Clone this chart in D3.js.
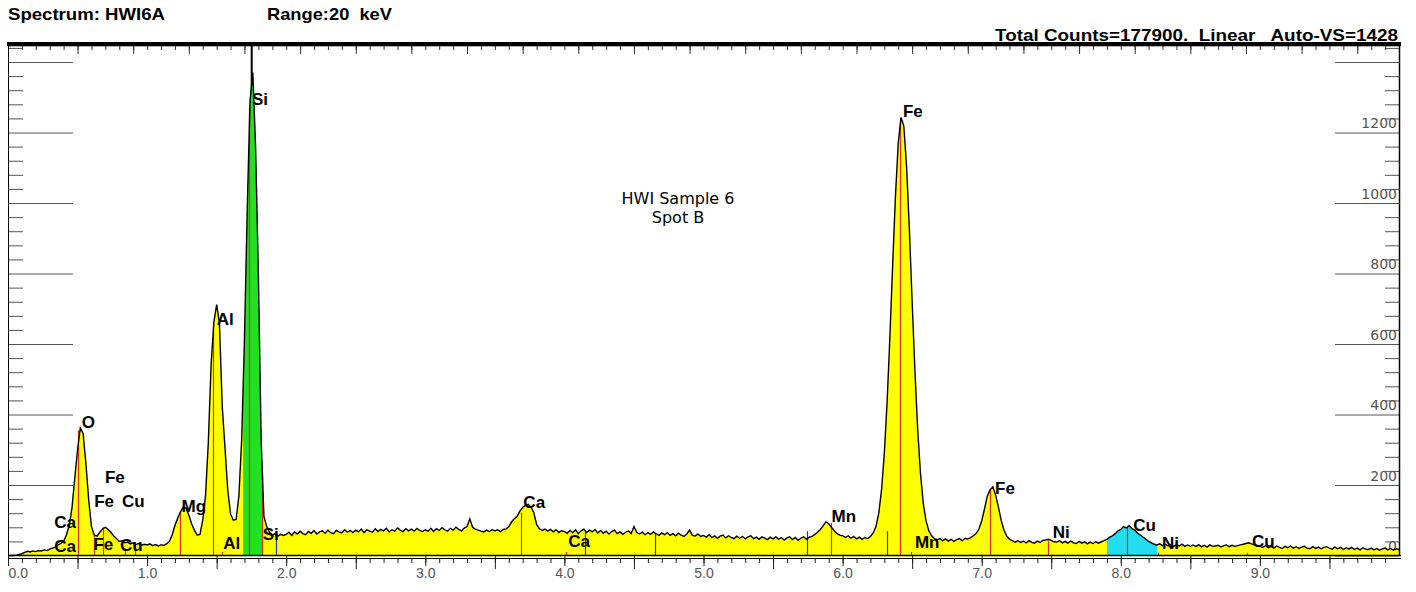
<!DOCTYPE html>
<html>
<head>
<meta charset="utf-8">
<script src="https://cdn.jsdelivr.net/npm/d3@7"></script>
<style>
body { margin: 0; background: #fff; }
svg { display: block; font-family: "Liberation Sans", Arial, sans-serif; }
</style>
</head>
<body>
<script>

// Spectrum counts, one value per 20 eV channel (0.00 .. 10.00 keV)
var channelWidth = 0.02;
var spectrumCounts = [
    // 0.00 - 0.48
    0, 0, 0, 1, 3, 5, 9, 12, 10, 13, 11, 14, 13, 16, 14, 18, 21, 24, 30, 34, 40, 58, 85, 135, 220,
    // 0.50 - 0.98
    300, 362, 346, 262, 158, 82, 58, 55, 66, 76, 80, 74, 66, 55, 48, 40, 42, 36, 38, 33, 36, 31, 34, 29, 32,
    // 1.00 - 1.48
    30, 33, 28, 31, 27, 30, 29, 33, 40, 58, 85, 106, 124, 138, 134, 114, 90, 72, 58, 60, 100, 170, 320, 540, 662,
    // 1.50 - 1.98
    712, 660, 425, 305, 185, 118, 100, 102, 170, 330, 615, 985, 1290, 1370, 1160, 800, 330, 110, 82, 66, 58, 62, 55, 60, 57,
    // 2.00 - 2.48
    60, 66, 57, 67, 61, 69, 62, 59, 68, 63, 71, 61, 67, 70, 63, 72, 65, 62, 71, 67, 64, 73, 66, 71, 65,
    // 2.50 - 2.98
    72, 67, 75, 65, 73, 69, 66, 76, 68, 74, 70, 77, 67, 73, 69, 78, 72, 68, 76, 70, 75, 69, 77, 71, 68,
    // 3.00 - 3.48
    73, 69, 77, 68, 76, 71, 79, 73, 69, 77, 72, 80, 74, 70, 78, 82, 104, 80, 75, 72, 69, 67, 72, 68, 73,
    // 3.50 - 3.98
    70, 73, 68, 74, 75, 82, 95, 104, 111, 126, 136, 142, 145, 138, 122, 88, 76, 71, 75, 69, 74, 67, 73, 65, 71,
    // 4.00 - 4.48
    68, 63, 71, 65, 73, 62, 70, 75, 65, 72, 67, 74, 64, 71, 63, 69, 61, 68, 72, 62, 67, 60, 66, 70, 62,
    // 4.50 - 4.98
    82, 66, 61, 66, 59, 65, 60, 67, 61, 57, 64, 59, 65, 57, 62, 56, 63, 58, 54, 61, 72, 57, 55, 61, 54,
    // 5.00 - 5.48
    57, 52, 59, 51, 56, 49, 55, 58, 50, 56, 51, 48, 55, 49, 54, 47, 53, 56, 48, 52, 46, 53, 49, 45, 52,
    // 5.50 - 5.98
    47, 53, 46, 51, 44, 50, 53, 45, 51, 43, 49, 53, 46, 52, 54, 60, 66, 74, 84, 96, 90, 80, 70, 62, 58,
    // 6.00 - 6.48
    56, 51, 56, 49, 54, 47, 52, 46, 51, 48, 54, 64, 82, 120, 186, 290, 436, 620, 826, 1020, 1170, 1243, 1218, 1104, 926,
    // 6.50 - 6.98
    720, 523, 356, 232, 148, 98, 70, 56, 48, 45, 48, 42, 47, 41, 46, 40, 45, 48, 42, 49, 47, 51, 56, 62, 75,
    // 7.00 - 7.48
    98, 132, 168, 186, 195, 172, 138, 100, 72, 55, 46, 42, 38, 42, 37, 41, 36, 42, 37, 35, 41, 37, 43, 44, 46,
    // 7.50 - 7.98
    43, 39, 38, 42, 36, 40, 35, 41, 36, 34, 40, 35, 39, 33, 38, 34, 39, 35, 39, 42, 46, 52, 56, 62, 70,
    // 8.00 - 8.48
    74, 82, 78, 85, 76, 72, 64, 58, 52, 46, 40, 36, 32, 30, 33, 28, 32, 27, 31, 26, 31, 27, 32, 26, 30,
    // 8.50 - 8.98
    26, 30, 26, 31, 25, 29, 24, 30, 26, 27, 29, 24, 28, 30, 25, 29, 26, 28, 30, 32, 34, 36, 33, 30, 27,
    // 9.00 - 9.48
    26, 23, 28, 22, 26, 21, 27, 23, 20, 26, 22, 27, 21, 25, 20, 24, 26, 21, 19, 25, 20, 24, 19, 23, 25,
    // 9.50 - 10.00
    21, 18, 24, 19, 23, 17, 22, 18, 23, 17, 21, 16, 22, 18, 17, 21, 16, 20, 15, 19, 21, 16, 20, 15, 19, 17
];

// Regions of interest (keV)
var roiStart = [1.69, 7.90];
var roiEnd = [1.83, 8.26];

// KLM marker lines: energy (keV), height (counts), kind
var markerEnergies = [0.50, 0.62, 0.685, 0.84, 0.913, 1.237, 1.476, 1.536, 1.735, 1.826,
    3.686, 4.01, 5.914, 6.41, 6.49, 7.06, 7.478, 8.048, 8.265, 8.905,
    1.93, 4.148, 4.651, 5.742, 6.32];
var markerCounts = [355, 58, 80, 12, 30, 122, 641, 10, 1271, 253,
    122, 10, 93, 1230, 10, 190, 42, 80, 8, 8,
    55, 69, 65, 69, 69];
var markerKinds = ["line", "line", "line", "line", "line", "line", "line", "line", "line", "line",
    "line", "line", "line", "line", "line", "line", "line", "line", "line", "line",
    "escape", "escape", "escape", "escape", "escape"];

// Peak labels: text, energy of left edge (keV), baseline height (counts)
var labelTexts = ["Si", "Al", "O", "Fe", "Fe", "Cu", "Ca", "Ca", "Fe", "Cu", "Mg", "Al", "Si",
    "Ca", "Ca", "Mn", "Fe", "Mn", "Fe", "Ni", "Cu", "Ni", "Cu"];
var labelEnergies = [1.754, 1.50, 0.53, 0.697, 0.62, 0.82, 0.333, 0.333, 0.613, 0.805, 1.248, 1.548, 1.831,
    3.705, 4.028, 5.921, 6.434, 6.52, 7.096, 7.51, 8.09, 8.296, 8.943];
var labelCounts = [1278, 654, 362, 206, 138, 138, 78, 11, 15, 14, 123, 18, 44,
    134, 25, 96, 1244, 21, 174, 50, 70, 18, 24];

// cursor position (keV)
var cursorEnergy = 1.752;

// axis ticks
var xMajorTicks = [0, 1, 2, 3, 4, 5, 6, 7, 8, 9];
var xTickLabels = ["0.0", "1.0", "2.0", "3.0", "4.0", "5.0", "6.0", "7.0", "8.0", "9.0"];
var yMajorTicks = [0, 200, 400, 600, 800, 1000, 1200, 1400];
var yTickLabels = ["0", "200", "400", "600", "800", "1000", "1200", ""];

var headerLeft = "Spectrum: HWI6A";
var headerRange = "Range:20  keV";
var headerRight = "Total Counts=177900.  Linear   Auto-VS=1428";
var noteLines = ["HWI Sample 6", "Spot B"];

// styles
var colors = {fill: "#ffff00", roi: ["#22e022", "#22dcf0"], line: "#d83010", escape: "#2030c8",
    stub: "#555", tick: "#222", label: "#555"};

var width = 1416,
    height = 592;

var svg = d3.select("body").append("svg")
    .attr("width", width)
    .attr("height", height);

var x = d3.scaleLinear().domain([0, 10]).range([8, 1399]);
var y = d3.scaleLinear().domain([0, 1450]).range([555.5, 44.4]);

var spectrum = spectrumCounts.map(function(c, i) { return {e: i * channelWidth, c: c}; });

function noDomain(g) { g.select(".domain").remove(); }

// ****************** count stubs, left and right ******************
var yMinorTicks = d3.range(40, 1441, 40).filter(function(v) { return v % 200 !== 0; });

svg.append("g")
    .attr("transform", "translate(8,0)")
    .call(d3.axisRight(y).tickValues(yMajorTicks.slice(1)).tickSize(65).tickFormat(""))
    .call(noDomain)
    .selectAll("line").attr("stroke", colors.stub);

svg.append("g")
    .attr("transform", "translate(8,0)")
    .call(d3.axisRight(y).tickValues(yMinorTicks).tickSize(15).tickFormat(""))
    .call(noDomain)
    .selectAll("line").attr("stroke", colors.stub);

var right = svg.append("g")
    .attr("transform", "translate(1399,0)")
    .call(d3.axisLeft(y).tickValues(yMajorTicks).tickSize(64)
        .tickFormat(function(d, i) { return yTickLabels[i]; }))
    .call(noDomain)
    .attr("font-family", "'DejaVu Sans', sans-serif")
    .attr("font-size", 14);
right.selectAll("line").attr("stroke", colors.stub);
right.selectAll("text")
    .attr("x", -2)
    .attr("dy", -5)
    .attr("text-anchor", "end")
    .attr("fill", colors.label);

svg.append("g")
    .attr("transform", "translate(1399,0)")
    .call(d3.axisLeft(y).tickValues(yMinorTicks).tickSize(14).tickFormat(""))
    .call(noDomain)
    .selectAll("line").attr("stroke", colors.stub);

// ****************** spectrum ******************
svg.append("line")
    .attr("x1", x(cursorEnergy)).attr("x2", x(cursorEnergy))
    .attr("y1", 46).attr("y2", 555)
    .attr("stroke", "#000").attr("stroke-width", 2);

var area = d3.area()
    .x(function(d) { return x(d.e); })
    .y0(y(0))
    .y1(function(d) { return y(d.c); });

var line = d3.line()
    .x(function(d) { return x(d.e); })
    .y(function(d) { return y(d.c); });

svg.append("path")
    .datum(spectrum)
    .attr("d", area)
    .attr("fill", colors.fill);

var defs = svg.append("defs");
roiStart.forEach(function(s, i) {
    defs.append("clipPath").attr("id", "roi" + i)
        .append("rect")
        .attr("x", x(s)).attr("y", 0)
        .attr("width", x(roiEnd[i]) - x(s)).attr("height", height);
    svg.append("path")
        .datum(spectrum)
        .attr("d", area)
        .attr("fill", colors.roi[i])
        .attr("clip-path", "url(#roi" + i + ")");
});

svg.append("g").selectAll("line")
    .data(markerEnergies)
    .enter().append("line")
    .attr("x1", function(d) { return Math.round(x(d)) + 0.5; })
    .attr("x2", function(d) { return Math.round(x(d)) + 0.5; })
    .attr("y1", y(0))
    .attr("y2", function(d, i) { return y(markerCounts[i]); })
    .attr("stroke", function(d, i) { return markerKinds[i] === "line" ? colors.line : colors.escape; })
    .attr("stroke-width", 1.2);

svg.append("path")
    .datum(spectrum)
    .attr("d", line)
    .attr("fill", "none")
    .attr("stroke", "#000")
    .attr("stroke-width", 1.4);

// ****************** peak labels ******************
svg.append("g")
    .attr("font-weight", "bold")
    .attr("font-size", 17)
    .selectAll("text")
    .data(labelTexts)
    .enter().append("text")
    .attr("x", function(d, i) { return x(labelEnergies[i]); })
    .attr("y", function(d, i) { return y(labelCounts[i]); })
    .attr("fill", "#000")
    .text(function(d) { return d; });

// ****************** energy axis ******************
var xMinorTicks = d3.range(1, 100).map(function(i) { return i / 10; });
var xHalfTicks = xMajorTicks.map(function(v) { return v + 0.5; });

svg.append("g")
    .attr("transform", "translate(0,558)")
    .call(d3.axisBottom(x).tickValues(xMinorTicks).tickSize(5).tickFormat(""))
    .call(noDomain)
    .selectAll("line").attr("stroke", colors.tick);

svg.append("g")
    .attr("transform", "translate(0,555)")
    .call(d3.axisBottom(x).tickValues(xHalfTicks).tickSize(14).tickFormat(""))
    .call(noDomain)
    .selectAll("line").attr("stroke", colors.tick);

var bottom = svg.append("g")
    .attr("transform", "translate(0,555)")
    .call(d3.axisBottom(x).tickValues(xMajorTicks).tickSize(11).tickPadding(2)
        .tickFormat(function(d, i) { return xTickLabels[i]; }))
    .call(noDomain)
    .attr("font-family", "'Liberation Sans', Arial, sans-serif")
    .attr("font-size", 14);
bottom.selectAll("line").attr("stroke", colors.tick);
bottom.selectAll("text").attr("fill", colors.label);
bottom.selectAll("text").filter(function(d) { return d === 0; })
    .attr("text-anchor", "start");

// top ruler
svg.append("g")
    .attr("transform", "translate(0,46)")
    .call(d3.axisBottom(x).tickValues(xMinorTicks).tickSize(4).tickFormat(""))
    .call(noDomain)
    .selectAll("line").attr("stroke", "#333");

svg.append("g")
    .attr("transform", "translate(0,46)")
    .call(d3.axisBottom(x).tickValues(d3.range(0.5, 10, 0.4)).tickSize(8).tickFormat(""))
    .call(noDomain)
    .selectAll("line").attr("stroke", "#333");

// ****************** frame ******************
svg.append("rect").attr("x", 7).attr("y", 42).attr("width", 1394).attr("height", 4.3).attr("fill", "#000");
svg.append("line").attr("x1", 8.5).attr("x2", 8.5).attr("y1", 44).attr("y2", 556).attr("stroke", "#000");
svg.append("line").attr("x1", 1399.5).attr("x2", 1399.5).attr("y1", 44).attr("y2", 556)
    .attr("stroke", "#000").attr("stroke-width", 1.5);
svg.append("line").attr("x1", 8).attr("x2", 1401).attr("y1", 555.5).attr("y2", 555.5)
    .attr("stroke", "#000").attr("stroke-width", 1.5);
svg.append("line").attr("x1", 8).attr("x2", 1401).attr("y1", 558.5).attr("y2", 558.5)
    .attr("stroke", "#000");

// ****************** header and note ******************
svg.append("text")
    .attr("x", 8).attr("y", 19.5)
    .attr("font-weight", "bold").attr("font-size", 17)
    .attr("textLength", 157).attr("lengthAdjust", "spacingAndGlyphs")
    .text(headerLeft);

svg.append("text")
    .attr("x", 267).attr("y", 19.5)
    .attr("font-weight", "bold").attr("font-size", 17)
    .attr("xml:space", "preserve").style("white-space", "pre")
    .attr("textLength", 125).attr("lengthAdjust", "spacingAndGlyphs")
    .text(headerRange);

svg.append("text")
    .attr("x", 995).attr("y", 41)
    .attr("font-weight", "bold").attr("font-size", 17)
    .attr("xml:space", "preserve").style("white-space", "pre")
    .attr("textLength", 403).attr("lengthAdjust", "spacingAndGlyphs")
    .text(headerRight);

svg.append("g")
    .attr("font-family", "'DejaVu Sans', sans-serif")
    .attr("font-size", 16)
    .attr("text-anchor", "middle")
    .selectAll("text")
    .data(noteLines)
    .enter().append("text")
    .attr("x", 678)
    .attr("y", function(d, i) { return 204 + i * 19; })
    .text(function(d) { return d; });

</script>
</body>
</html>
